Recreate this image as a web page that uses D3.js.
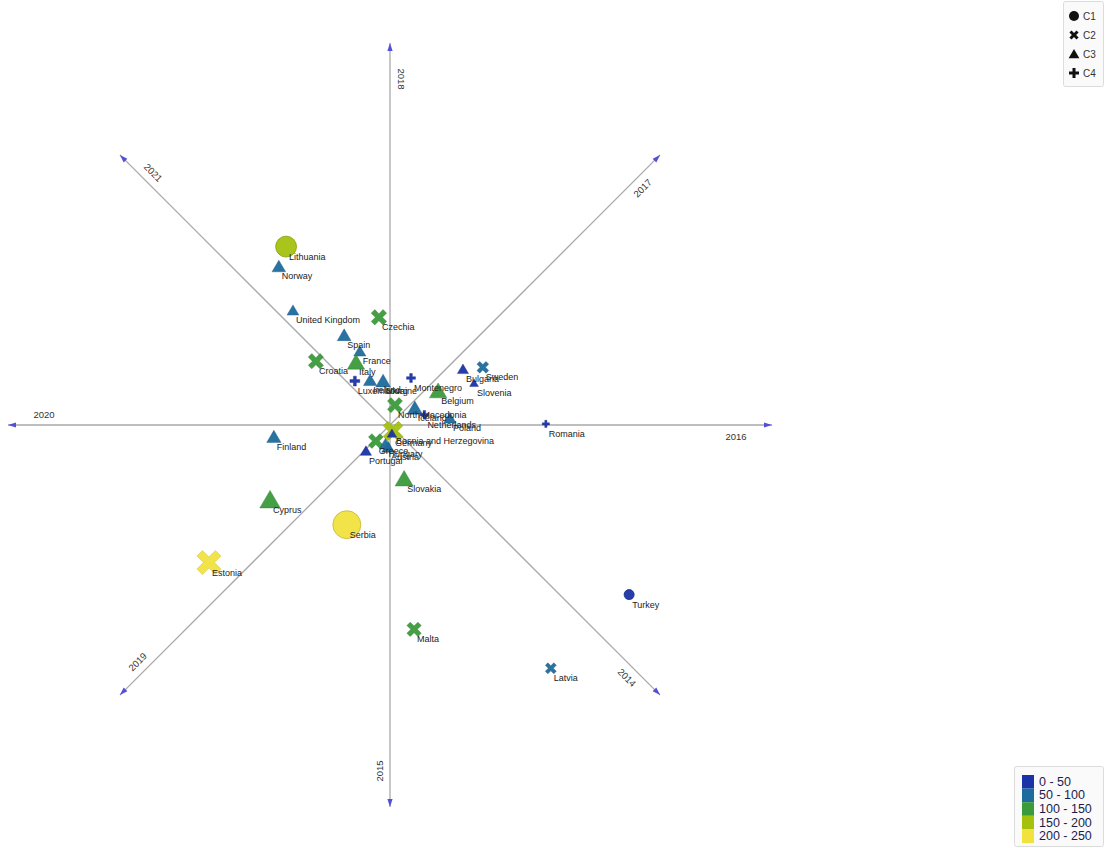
<!DOCTYPE html>
<html>
<head>
<meta charset="utf-8">
<script src="https://cdn.jsdelivr.net/npm/d3@7"></script>
<style>
  html, body { margin: 0; padding: 0; background: #fff; }
  svg { display: block; }
</style>
</head>
<body>
<svg id="chart" width="1109" height="848"></svg>
<script>
// ---------------- DATA ----------------
const axisYears = ["2016", "2014", "2015", "2019", "2020", "2021", "2018", "2017"];

const countries = ["Lithuania", "Norway", "United Kingdom", "Czechia", "Spain", "France", "Italy", "Croatia",
  "Luxembourg", "Ireland", "Ukraine", "Montenegro", "Belgium", "Bulgaria", "Sweden", "Slovenia",
  "North Macedonia", "Iceland", "Netherlands", "Poland", "Romania", "Bosnia and Herzegovina", "Germany",
  "Greece", "Austria", "Hungary", "Portugal", "Slovakia", "Finland", "Cyprus", "Serbia", "Estonia",
  "Malta", "Latvia", "Turkey"];
const xValues = [-2.72, -2.91, -2.54, -0.29, -1.20, -0.79, -0.89, -1.94,
  -0.92, -0.52, -0.18, 0.55, 1.26, 1.91, 2.43, 2.20,
  0.13, 0.65, 0.90, 1.57, 4.08, 0.08, 0.05,
  -0.37, -0.05, -0.12, -0.63, 0.37, -3.04, -3.14, -1.13, -4.74,
  0.63, 4.21, 6.26];
const yValues = [4.67, 4.15, 3.00, 2.82, 2.35, 1.93, 1.64, 1.67,
  1.15, 1.17, 1.15, 1.23, 0.89, 1.46, 1.51, 1.10,
  0.52, 0.44, 0.27, 0.18, 0.03, -0.16, -0.22,
  -0.42, -0.58, -0.50, -0.68, -1.41, -0.31, -1.96, -2.61, -3.60,
  -5.35, -6.37, -4.44];
const clusters = ["C1", "C3", "C3", "C2", "C3", "C3", "C3", "C2",
  "C4", "C3", "C3", "C4", "C3", "C3", "C2", "C3",
  "C2", "C3", "C4", "C3", "C4", "C2", "C3",
  "C2", "C3", "C3", "C3", "C3", "C3", "C3", "C1", "C2",
  "C2", "C2", "C1"];
const values = [155, 68, 52, 112, 70, 55, 104, 110,
  40, 65, 80, 30, 105, 45, 70, 22,
  108, 85, 25, 55, 12, 160, 30,
  105, 60, 55, 45, 112, 75, 135, 229, 210,
  100, 62, 42];

const clusterNames = ["C1", "C2", "C3", "C4"];
const binLabels = ["0 - 50", "50 - 100", "100 - 150", "150 - 200", "200 - 250"];
const binEdges = [50, 100, 150, 200];
const binColors = ["#1b33a8", "#1e6c9e", "#3b9a3a", "#a4c10e", "#f1e23e"];

// ---------------- CHART ----------------
const svg = d3.select("#chart");
const W = 1109, H = 848;
const cx = 390, cy = 425, R = 382;

const x = d3.scaleLinear().domain([-10, 10]).range([cx - R, cx + R]);
const y = d3.scaleLinear().domain([-10, 10]).range([cy + R, cy - R]);
const color = d3.scaleThreshold().domain(binEdges).range(binColors);
const size = d3.scaleLinear().domain([0, 250]).range([3, 15]);

function symbolPath(type, s) {
  if (type === "C1") {
    return d3.arc()({innerRadius: 0, outerRadius: s, startAngle: 0, endAngle: 2 * Math.PI});
  }
  if (type === "C3") {
    const h = s * 1.0;
    return `M0,${-h}L${s * 1.08},${h * 0.85}L${-s * 1.08},${h * 0.85}Z`;
  }
  // cross shapes
  const w = s * 0.3;
  const pts = [[-w, -s], [w, -s], [w, -w], [s, -w], [s, w], [w, w], [w, s], [-w, s], [-w, w], [-s, w], [-s, -w], [-w, -w]];
  let p = pts;
  if (type === "C2") {
    const a = Math.PI / 4, c = Math.cos(a), sn = Math.sin(a);
    const k = 1.0;
    p = pts.map(([px, py]) => [k * (px * c - py * sn), k * (px * sn + py * c)]);
  }
  return "M" + p.map(q => q[0].toFixed(2) + "," + q[1].toFixed(2)).join("L") + "Z";
}

// axes
const axisG = svg.append("g");
axisYears.forEach((yr, i) => {
  const ang = i * Math.PI / 4;
  const dx = Math.cos(ang), dy = Math.sin(ang);
  const ex = cx + dx * R, ey = cy + dy * R;
  axisG.append("line")
    .attr("x1", cx).attr("y1", cy).attr("x2", ex).attr("y2", ey)
    .attr("stroke", "#a9a9a9").attr("stroke-width", 1.3);
  // arrowhead
  const al = 8, aw = 2.6;
  const bx = ex - dx * al, by = ey - dy * al;
  const px = -dy, py = dx;
  axisG.append("path")
    .attr("d", `M${ex},${ey}L${bx + px * aw},${by + py * aw}L${bx - px * aw},${by - py * aw}Z`)
    .attr("fill", "#5050d8");
  // label
  const dist = 346, off = 11;
  const lx = cx + dx * dist + (-dy) * off;
  const ly = cy + dy * dist + (dx) * off;
  let deg = i * 45;
  if (deg > 180) deg -= 360;
  let rot = deg;
  if (rot > 90) rot -= 180;
  if (rot < -90) rot += 180;
  if (yr === "2018") rot = 90;
  if (yr === "2015") rot = -90;
  axisG.append("text")
    .attr("transform", `translate(${lx},${ly}) rotate(${rot})`)
    .attr("text-anchor", "middle").attr("dominant-baseline", "central")
    .attr("font-family", "Liberation Sans, Arial, sans-serif").attr("font-size", 9.5)
    .attr("fill", "#333").text(yr);
});

// points
const pts = countries.map((name, i) => ({
  name, x: xValues[i], y: yValues[i], c: clusters[i], v: values[i]
}));

const markG = svg.append("g");
markG.selectAll("path.mark").data(pts).join("path")
  .attr("class", "mark")
  .attr("transform", d => `translate(${x(d.x)},${y(d.y)})`)
  .attr("d", d => symbolPath(d.c, size(d.v)))
  .attr("fill", d => color(d.v))
  .attr("fill-opacity", 0.95)
  .attr("stroke", d => d3.color(color(d.v)).darker(0.6))
  .attr("stroke-width", d => d.c === "C1" ? 0.8 : 0.4);

const labelG = svg.append("g");
labelG.selectAll("text").data(pts).join("text")
  .attr("x", d => x(d.x) + 3)
  .attr("y", d => y(d.y) + 13)
  .attr("font-family", "Liberation Sans, Arial, sans-serif")
  .attr("font-size", 9)
  .attr("fill", "#222")
  .text(d => d.name);

// shape legend
const lg1 = svg.append("g");
lg1.append("rect").attr("x", 1063.5).attr("y", 1.5).attr("width", 40).attr("height", 85)
  .attr("rx", 2).attr("fill", "#fafafa").attr("stroke", "#dcdcdc");
const shapeY = d3.scalePoint().domain(clusterNames).range([16, 73]);
clusterNames.forEach(c => {
  lg1.append("path")
    .attr("transform", `translate(1074,${shapeY(c)})`)
    .attr("d", symbolPath(c, c === "C1" ? 5 : 5))
    .attr("fill", "#111");
  lg1.append("text").attr("x", 1083).attr("y", shapeY(c)).attr("dominant-baseline", "central")
    .attr("font-family", "Liberation Sans, Arial, sans-serif").attr("font-size", 10)
    .attr("fill", "#333").text(c);
});

// color legend
const lg2 = svg.append("g");
lg2.append("rect").attr("x", 1014.5).attr("y", 766.5).attr("width", 89).attr("height", 80)
  .attr("rx", 2).attr("fill", "#fafafa").attr("stroke", "#dcdcdc");
const rowY = d3.scaleBand().domain(binLabels).range([775, 843]);
binLabels.forEach((b, i) => {
  lg2.append("rect").attr("x", 1022).attr("y", rowY(b)).attr("width", 12).attr("height", rowY.bandwidth())
    .attr("fill", binColors[i]);
  lg2.append("text").attr("x", 1039).attr("y", rowY(b) + rowY.bandwidth() / 2)
    .attr("dominant-baseline", "central")
    .attr("font-family", "Liberation Sans, Arial, sans-serif").attr("font-size", 12.5)
    .attr("fill", "#1c1c50").text(b);
});
</script>
</body>
</html>
